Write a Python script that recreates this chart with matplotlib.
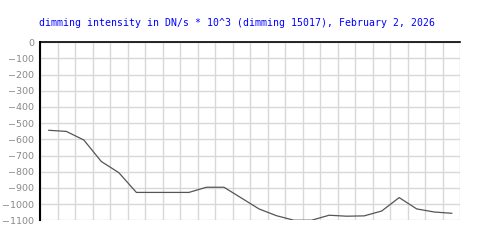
import numpy as np
import matplotlib
matplotlib.use("Agg")
import matplotlib.pyplot as plt

# hourly dimming values (DN/s * 10^3)
hours = np.arange(24) + 0.5
dimming = [-544, -551, -604, -737, -806, -928, -928, -928, -928, -896,
           -896, -963, -1030, -1072, -1100, -1100, -1069, -1075, -1073, -1043,
           -960, -1030, -1049, -1057]

yticks = list(range(0, -1101, -100))
title = "dimming intensity in DN/s * 10^3 (dimming 15017), February 2, 2026"

fig = plt.figure(figsize=(5, 2.5), dpi=100)
ax = fig.add_axes([0.08, 0.119, 0.841, 0.712])

ax.plot(hours, dimming, color='#555555', linewidth=0.9)

ax.set_xlim(0, 24)
ax.set_ylim(-1100, 0)
ax.set_xticks(np.arange(0, 25, 1))
ax.set_xticklabels([])
ax.set_yticks(yticks)
ax.set_yticklabels([str(v).replace('-', '\u2212') for v in yticks])
ax.tick_params(axis='both', length=0, pad=4)
ax.tick_params(axis='y', labelsize=6.8, labelcolor='#888888')

ax.grid(True, color='#d8d8d8', linewidth=1)
ax.set_axisbelow(True)

for side in ['right', 'bottom']:
    ax.spines[side].set_visible(False)
ax.spines['top'].set_color('black')
ax.spines['top'].set_linewidth(1.2)
ax.spines['left'].set_color('black')
ax.spines['left'].set_linewidth(1.5)

fig.text(0.474, 0.91, title, color='blue', fontsize=7.1,
         family='DejaVu Sans Mono', ha='center', va='center')

fig.savefig('out.png', dpi=100)
